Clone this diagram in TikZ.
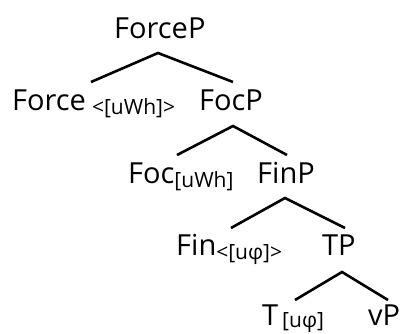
\documentclass[tikz,border=0pt]{standalone}
\usepackage{fontspec}
\setmainfont{Open Sans}
\newcommand{\subfeat}[2][-4pt]{{\fontsize{21}{23}\selectfont\raisebox{#1}{#2}}}
\tikzset{
  lbl/.style={anchor=base west, inner sep=0pt, font=\fontsize{29}{33}\selectfont},
  branch/.style={black, line width=2.6pt}
}
\begin{document}
\begin{tikzpicture}[x=1pt,y=-1pt]
       \useasboundingbox (0,0) rectangle (401,333);
       % labels
       \node[lbl] (forcep) at (114,38) {ForceP};
       \node[lbl] (force) at (12,110) {Force\hspace{6pt}\subfeat{<[uWh]>}};
       \node[lbl] (focp) at (199,110) {FocP};
       \node[lbl] (foc) at (128,183) {Foc\subfeat{[uWh]}};
       \node[lbl] (finp) at (257,183) {FinP};
       \node[lbl] (fin) at (176,255) {Fin\subfeat{<[uφ]>}};
       \node[lbl] (tp) at (322,255) {TP};
       \node[lbl] (t) at (262,325) {T\hspace{4pt}\subfeat[-2pt]{[uφ]}};
       \node[lbl] (vp) at (368,325) {vP};
       % branches
       \coordinate (forcep-top) at (158,53);
       \coordinate (force-end) at (91,82);
       \coordinate (focp-end) at (233,82);
       \coordinate (focp-top) at (233,126);
       \coordinate (foc-end) at (177,155);
       \coordinate (finp-end) at (287,155);
       \coordinate (finp-top) at (285,198);
       \coordinate (fin-end) at (231,228);
       \coordinate (tp-end) at (345,228);
       \coordinate (tp-top) at (342,272);
       \coordinate (t-end) at (295,300);
       \coordinate (vp-end) at (388,300);
       \draw[branch] (force-end) -- (forcep-top) -- (focp-end);
       \draw[branch] (foc-end) -- (focp-top) -- (finp-end);
       \draw[branch] (fin-end) -- (finp-top) -- (tp-end);
       \draw[branch] (t-end) -- (tp-top) -- (vp-end);
\end{tikzpicture}
\end{document}
